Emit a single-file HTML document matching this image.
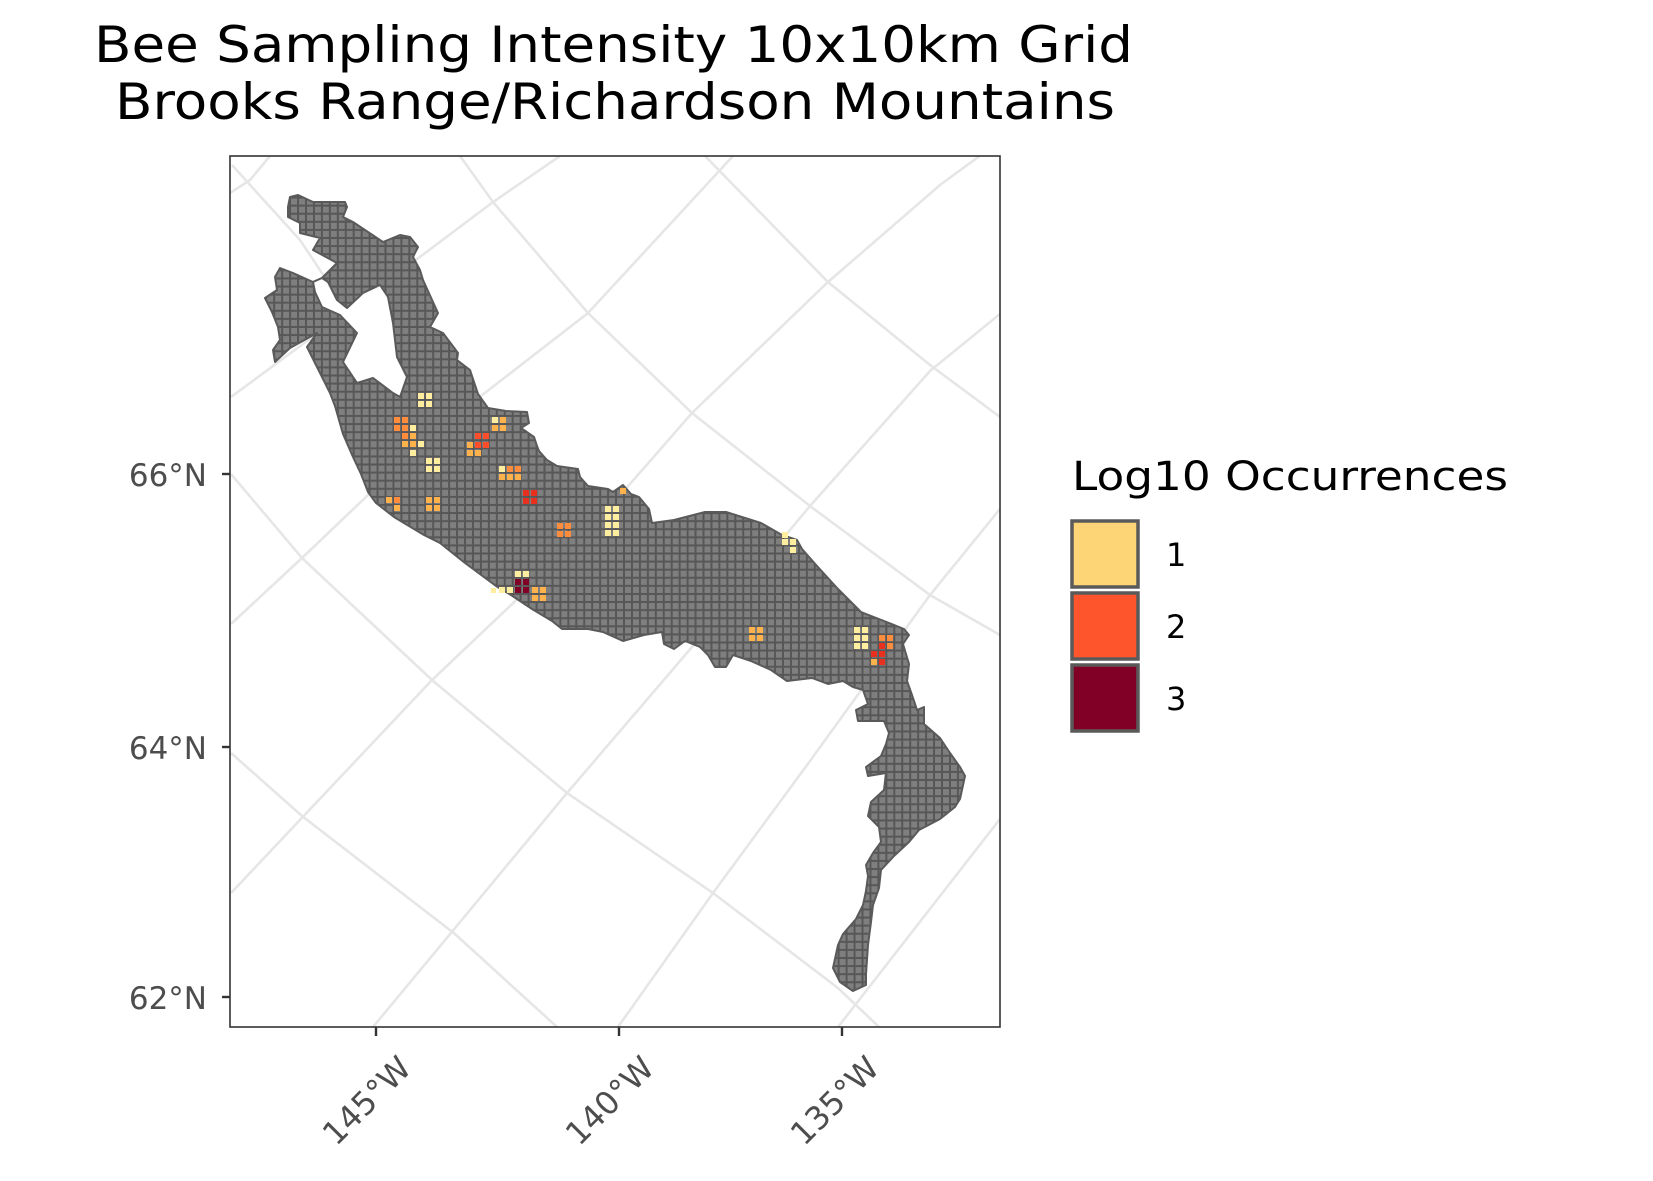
<!DOCTYPE html>
<html><head><meta charset="utf-8"><style>
html,body{margin:0;padding:0;background:#fff;}
svg{display:block;}
text{font-family:"DejaVu Sans","Liberation Sans",sans-serif;}
</style></head><body>
<svg width="1653" height="1181" viewBox="0 0 1653 1181" xmlns="http://www.w3.org/2000/svg">
<defs>
<clipPath id="pc"><rect x="230" y="156" width="770" height="871"/></clipPath>
<pattern id="g" patternUnits="userSpaceOnUse" x="417.3" y="391.7" width="7.95" height="8.09">
<rect width="7.95" height="8.09" fill="#575757"/><rect x="1" y="1" width="5.95" height="6.09" fill="#7f7f7f"/>
</pattern>
</defs>
<rect width="1653" height="1181" fill="#fff"/>
<!-- title -->
<text x="94" y="62" font-size="50" textLength="1039" lengthAdjust="spacingAndGlyphs" fill="#000">Bee Sampling Intensity 10x10km Grid</text>
<text x="115" y="119" font-size="50" textLength="1000" lengthAdjust="spacingAndGlyphs" fill="#000">Brooks Range/Richardson Mountains</text>

<g clip-path="url(#pc)" fill="none" stroke="#e6e6e6" stroke-width="2.6">
<polyline points="460,156 493,202 588,313 692,413 810,506 930,595 1000,635"/>
<polyline points="705,156 828,282 930,365 1000,417"/>
<polyline points="231,474 302,558 432,680 567,793 713,893 838,988 879,1027"/>
<polyline points="231,753 302,816 455,934 557,1027"/>
<polyline points="232,165 300,240 393,380 440,440"/>
<polyline points="231,397 368,296 493,202 560,156"/>
<polyline points="231,624 302,558 432,434 588,313 733,156"/>
<polyline points="231,893 432,680 588,532 692,413 828,282 940,185 1000,141"/>
<polyline points="373,1027 567,793 692,647 810,506 930,371 1000,314"/>
<polyline points="618,1027 713,893 810,761 930,595 1000,509"/>
<polyline points="838,1027 1000,819"/>
<polyline points="230,193 250,180 270,156"/>
</g>

<!-- map -->
<polygon fill="url(#g)" stroke="#5a5a5a" stroke-width="2" stroke-linejoin="round" points="
275,362 273,350 280,340 278,327 272,312 265,298 277,290 275,277 280,268 293,273 313,282 322,278 337,263 313,250 320,238 300,233 300,223 288,217 288,207 290,197 298,195 313,202 345,202 347,207 343,217 353,222 383,242 400,235 410,237 418,247 413,257 420,270 423,280 438,313 430,327 443,333 458,353 457,360 470,370 478,394 488,408 506,411 527,412 529,423 521,428 534,437 537,446 539,451 547,460 557,466 578,469 580,477 588,486 608,489 613,492 623,485 631,494 639,497 649,509 652,523 674,520 705,512 726,512 761,523 782,535 797,540 802,549 817,566 838,589 861,612 884,621 904,629 909,635 903,644 909,664 907,681 912,695 917,710 924,707 924,724 940,738 950,753 960,767 965,776 960,799 955,807 940,819 919,830 909,842 894,856 881,870 879,888 873,905 871,922 868,945 866,974 866,985 853,991 840,982 833,968 838,945 843,934 856,919 863,905 866,891 868,876 866,865 873,853 881,842 879,827 868,816 871,802 884,790 886,773 868,776 866,767 881,756 886,744 889,733 884,721 858,721 856,710 868,704 863,690 853,687 843,681 828,684 812,678 787,681 771,670 751,661 733,655 726,667 715,667 708,655 700,647 685,641 674,649 664,644 662,632 644,635 623,641 603,632 588,629 562,629 552,621 532,609 511,595 496,586 465,563 440,543 424,535 394,517 376,503 368,492 361,474 353,457 343,434 335,406 330,393 317,367 307,347 317,333 290,348"/>
<polygon fill="#fff" stroke="#5a5a5a" stroke-width="2" stroke-linejoin="round" points="313,282 322,278 328,282 337,300 347,308 363,293 380,285 388,297 393,323 397,357 407,377 400,397 393,393 373,378 357,383 343,362 357,333 340,315 322,307 315,292"/>

<g>
<g fill="#ffeda0">
<rect x="418" y="393" width="6" height="6"/><rect x="426" y="393" width="6" height="6"/><rect x="418" y="401" width="6" height="6"/><rect x="426" y="401" width="6" height="6"/>
<rect x="410" y="425" width="6" height="6"/><rect x="418" y="441" width="6" height="6"/><rect x="410" y="450" width="6" height="6"/>
<rect x="426" y="458" width="6" height="6"/><rect x="434" y="458" width="6" height="6"/><rect x="426" y="466" width="6" height="6"/><rect x="434" y="466" width="6" height="6"/>
<rect x="492" y="417" width="6" height="6"/><rect x="499" y="466" width="6" height="6"/>
<rect x="605" y="506" width="6" height="6"/><rect x="613" y="506" width="6" height="6"/><rect x="605" y="514" width="6" height="6"/><rect x="613" y="514" width="6" height="6"/><rect x="605" y="522" width="6" height="6"/><rect x="613" y="522" width="6" height="6"/><rect x="605" y="530" width="6" height="6"/><rect x="613" y="530" width="6" height="6"/>
<rect x="515" y="571" width="6" height="6"/><rect x="523" y="571" width="6" height="6"/>
<rect x="499" y="587" width="6" height="6"/><rect x="507" y="587" width="6" height="6"/><rect x="491" y="588" width="5" height="5"/>
<rect x="782" y="532" width="6" height="6"/><rect x="782" y="539" width="6" height="6"/><rect x="790" y="539" width="6" height="6"/><rect x="790" y="547" width="6" height="6"/>
<rect x="854" y="627" width="6" height="6"/><rect x="862" y="627" width="6" height="6"/><rect x="854" y="635" width="6" height="6"/><rect x="862" y="635" width="6" height="6"/><rect x="854" y="643" width="6" height="6"/><rect x="862" y="643" width="6" height="6"/>
</g>
<g fill="#feb24c">
<rect x="410" y="433" width="6" height="6"/><rect x="402" y="441" width="6" height="6"/><rect x="410" y="441" width="6" height="6"/>
<rect x="500" y="417" width="6" height="6"/><rect x="492" y="425" width="6" height="6"/><rect x="500" y="425" width="6" height="6"/>
<rect x="467" y="442" width="6" height="6"/><rect x="467" y="450" width="6" height="6"/><rect x="475" y="450" width="6" height="6"/>
<rect x="499" y="474" width="6" height="6"/><rect x="507" y="474" width="6" height="6"/><rect x="515" y="474" width="6" height="6"/>
<rect x="386" y="497" width="6" height="6"/><rect x="394" y="505" width="6" height="6"/>
<rect x="426" y="497" width="6" height="6"/><rect x="434" y="497" width="6" height="6"/><rect x="426" y="505" width="6" height="6"/><rect x="434" y="505" width="6" height="6"/>
<rect x="620" y="488" width="6" height="6"/>
<rect x="532" y="587" width="6" height="6"/><rect x="540" y="587" width="6" height="6"/><rect x="532" y="595" width="6" height="6"/><rect x="540" y="595" width="6" height="6"/>
<rect x="749" y="627" width="6" height="6"/><rect x="757" y="627" width="6" height="6"/><rect x="749" y="635" width="6" height="6"/><rect x="757" y="635" width="6" height="6"/>
<rect x="871" y="659" width="6" height="6"/>
</g>
<g fill="#fd8d3c">
<rect x="394" y="417" width="6" height="6"/><rect x="402" y="417" width="6" height="6"/><rect x="394" y="425" width="6" height="6"/><rect x="402" y="425" width="6" height="6"/>
<rect x="402" y="433" width="6" height="6"/>
<rect x="507" y="466" width="6" height="6"/><rect x="515" y="466" width="6" height="6"/>
<rect x="394" y="497" width="6" height="6"/>
<rect x="557" y="523" width="6" height="6"/><rect x="565" y="523" width="6" height="6"/><rect x="557" y="531" width="6" height="6"/><rect x="565" y="531" width="6" height="6"/>
<rect x="879" y="635" width="6" height="6"/><rect x="887" y="635" width="6" height="6"/><rect x="887" y="643" width="6" height="6"/>
</g>
<g fill="#fc4e2a">
<rect x="475" y="433" width="6" height="6"/><rect x="483" y="433" width="6" height="6"/><rect x="475" y="442" width="6" height="6"/><rect x="483" y="442" width="6" height="6"/>
</g>
<g fill="#e8301e">
<rect x="523" y="490" width="6" height="6"/><rect x="531" y="490" width="6" height="6"/><rect x="523" y="498" width="6" height="6"/><rect x="531" y="498" width="6" height="6"/>
<rect x="879" y="643" width="6" height="6"/><rect x="871" y="651" width="6" height="6"/><rect x="879" y="651" width="6" height="6"/><rect x="879" y="659" width="6" height="6"/>
</g>
<g fill="#800026">
<rect x="515" y="579" width="6" height="6"/><rect x="523" y="579" width="6" height="6"/><rect x="515" y="587" width="6" height="6"/><rect x="523" y="587" width="6" height="6"/>
</g>
</g>

<!-- panel border -->
<rect x="230" y="156" width="770" height="871" fill="none" stroke="#333" stroke-width="1.6"/>
<!-- ticks -->
<g stroke="#333" stroke-width="2.4">
<line x1="222" y1="474" x2="230" y2="474"/><line x1="222" y1="747" x2="230" y2="747"/><line x1="222" y1="997" x2="230" y2="997"/>
<line x1="376" y1="1027" x2="376" y2="1036"/><line x1="619" y1="1027" x2="619" y2="1036"/><line x1="842" y1="1027" x2="842" y2="1036"/>
</g>
<g font-size="31" fill="#4d4d4d" text-anchor="end">
<text x="207" y="486">66°N</text>
<text x="207" y="759">64°N</text>
<text x="207" y="1009">62°N</text>
</g>
<g font-size="32" fill="#4d4d4d" text-anchor="end">
<text transform="translate(413,1070) rotate(-45)">145°W</text>
<text transform="translate(656,1070) rotate(-45)">140°W</text>
<text transform="translate(881,1070) rotate(-45)">135°W</text>
</g>

<!-- legend -->
<text x="1072" y="490" font-size="40" textLength="436" lengthAdjust="spacingAndGlyphs" fill="#000">Log10 Occurrences</text>
<rect x="1072" y="521" width="66" height="66" fill="#fed576" stroke="#5a5a5a" stroke-width="3.5"/>
<rect x="1072" y="593" width="66" height="66" fill="#fe552c" stroke="#5a5a5a" stroke-width="3.5"/>
<rect x="1072" y="665" width="66" height="66" fill="#800026" stroke="#5a5a5a" stroke-width="3.5"/>
<g font-size="32" fill="#000">
<text x="1166" y="566">1</text>
<text x="1166" y="638">2</text>
<text x="1166" y="710">3</text>
</g>
</svg>
</body></html>
